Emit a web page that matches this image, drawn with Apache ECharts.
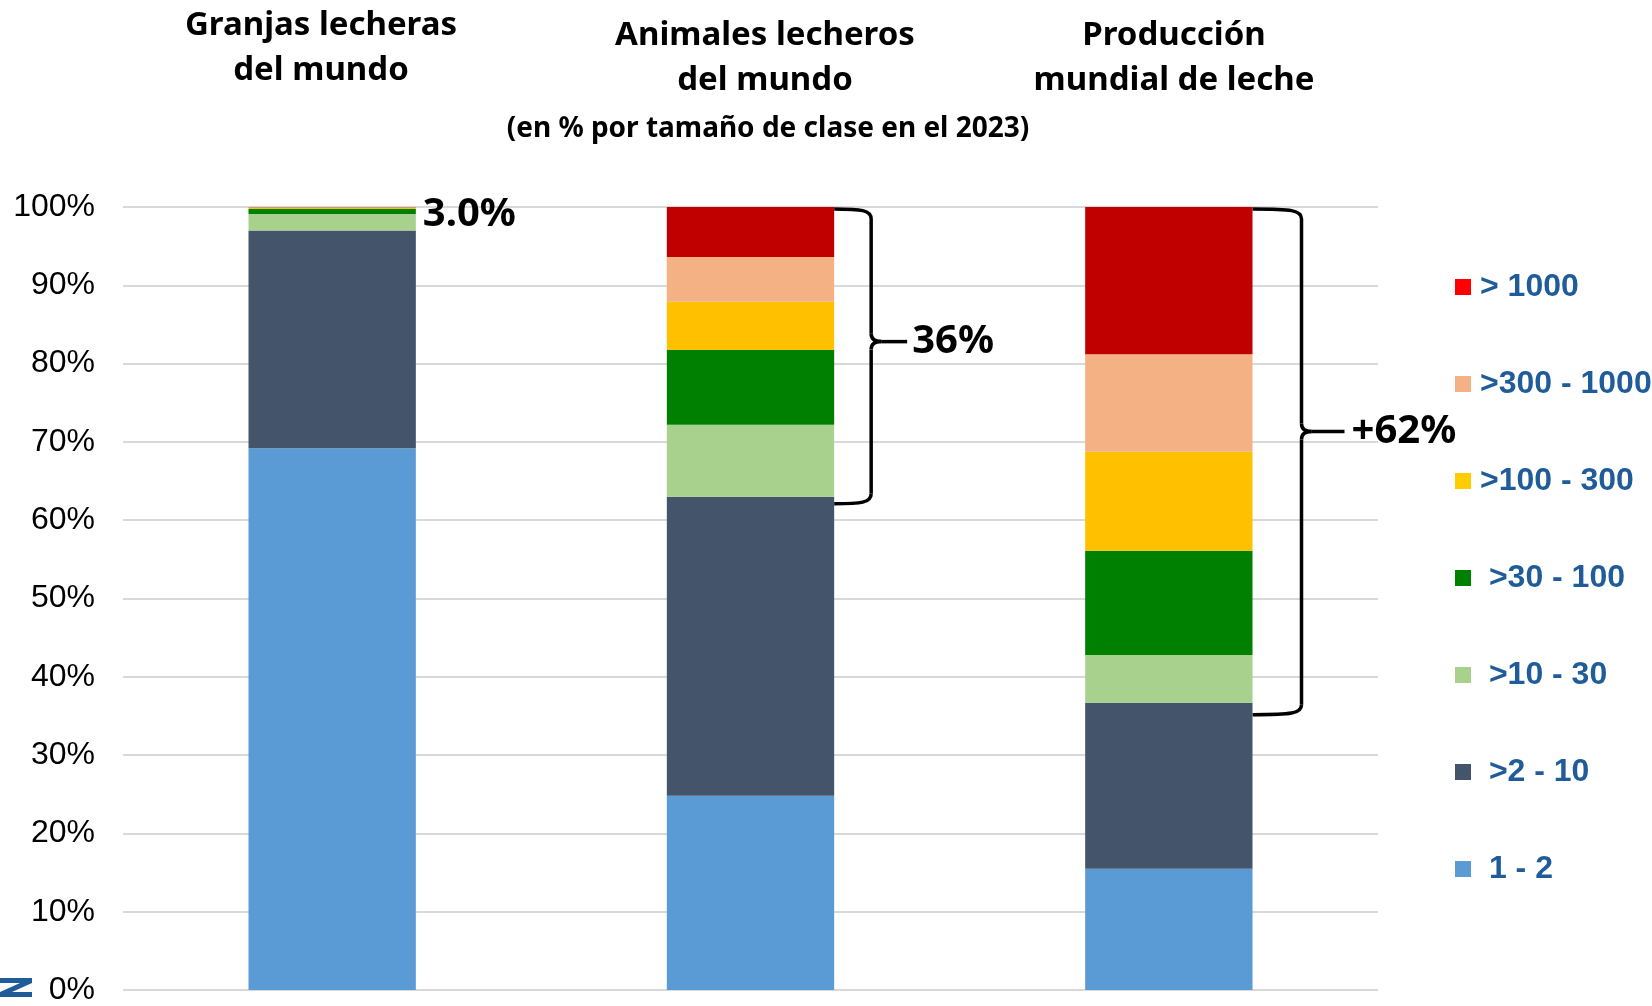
<!DOCTYPE html>
<html>
<head>
<meta charset="utf-8">
<script src="https://cdn.jsdelivr.net/npm/echarts@6/dist/echarts.min.js"></script>
<style>
  html, body { margin: 0; padding: 0; background: #fff; }
  #main { width: 1652px; height: 1006px; }
</style>
</head>
<body>
<div id="main"></div>
<script>
// categories (three stacked bars)
var categories = ['Granjas lecheras del mundo', 'Animales lecheros del mundo', 'Producción mundial de leche'];
// size classes, bottom to top
var classes = ['1 - 2', '>2 - 10', '>10 - 30', '>30 - 100', '>100 - 300', '>300 - 1000', '> 1000'];
// % share per size class, one value per category
var c1_2 = [69.2, 24.8, 15.5];
var c2_10 = [27.8, 38.2, 21.2];
var c10_30 = [2.1, 9.2, 6.1];
var c30_100 = [0.65, 9.55, 13.3];
var c100_300 = [0.15, 6.15, 12.65];
var c300_1000 = [0.07, 5.7, 12.45];
var c1000 = [0.03, 6.4, 18.8];
var seriesData = [c1_2, c2_10, c10_30, c30_100, c100_300, c300_1000, c1000];
var barColors = ['#5B9BD5', '#44546A', '#A9D18E', '#008000', '#FFC000', '#F4B183', '#C00000'];
var legendColors = ['#5B9BD5', '#44546A', '#A9D18E', '#008000', '#FFCC00', '#F4B183', '#FF0000'];
var yTicks = [0, 10, 20, 30, 40, 50, 60, 70, 80, 90, 100];
// share of the bigger classes (>10 animals) shown next to the bars
var bigShareLabels = ['3.0%', '36%', '+62%'];

var chartDom = document.getElementById('main');
var myChart = echarts.init(chartDom);

var series = classes.map(function (name, i) {
  return {
    name: name,
    type: 'bar',
    stack: 'total',
    barWidth: '40%',
    itemStyle: { color: barColors[i] },
    data: seriesData[i]
  };
});

var legendData = classes.slice().reverse().map(function (name) {
  var i = classes.indexOf(name);
  return { name: name, itemStyle: { color: legendColors[i] } };
});

var option = {
  animation: false,
  grid: { left: 123, right: 274, top: 207, bottom: 15 },
  xAxis: {
    type: 'category',
    data: categories,
    axisLine: { show: false },
    axisTick: { show: false },
    axisLabel: { show: false }
  },
  yAxis: {
    type: 'value',
    min: yTicks[0],
    max: yTicks[yTicks.length - 1],
    interval: 10,
    axisLabel: {
      formatter: '{value}%',
      fontSize: 32,
      color: '#000',
      fontFamily: 'Liberation Sans',
      margin: 28
    },
    splitLine: { lineStyle: { color: '#d9d9d9', width: 2 } }
  },
  legend: {
    orient: 'vertical',
    left: 1450,
    top: 266,
    itemWidth: 16,
    itemHeight: 16,
    itemGap: 65,
    icon: 'rect',
    data: legendData,
    formatter: function (name) {
      // the smaller classes are indented a little in the original
      return classes.indexOf(name) <= 3 ? ' ' + name : name;
    },
    textStyle: {
      fontSize: 32,
      lineHeight: 31,
      fontWeight: 'bold',
      color: '#1F5C99',
      fontFamily: 'Liberation Sans',
      padding: [0, 0, 0, 4]
    }
  },
  series: series
};

option && myChart.setOption(option);

// annotations built from the axis scales
var band = myChart.convertToPixel({ gridIndex: 0 }, [1, 0])[0] - myChart.convertToPixel({ gridIndex: 0 }, [0, 0])[0];
var halfBar = band * 0.4 / 2;
function px(ci, v) { return myChart.convertToPixel({ gridIndex: 0 }, [ci, v]); }
function lowerTop(ci) { return seriesData[0][ci] + seriesData[1][ci]; }

var braceStyle = { stroke: '#000', lineWidth: 3.5, fill: null };
function braceParts(x0, yT, yB, v, tip, r) {
  var yM = yT + (yB - yT) * r;
  return [
    { type: 'bezierCurve', shape: { x1: x0, y1: yT, x2: v, y2: yT + 10, cpx1: v - 10, cpy1: yT, cpx2: v, cpy2: yT + 1 }, style: braceStyle },
    { type: 'line', shape: { x1: v, y1: yT + 10, x2: v, y2: yM - 8 }, style: braceStyle },
    { type: 'bezierCurve', shape: { x1: v, y1: yM - 8, x2: v + 10, y2: yM, cpx1: v, cpy1: yM }, style: braceStyle },
    { type: 'line', shape: { x1: v + 10, y1: yM, x2: tip, y2: yM }, style: braceStyle },
    { type: 'bezierCurve', shape: { x1: v + 10, y1: yM, x2: v, y2: yM + 8, cpx1: v, cpy1: yM }, style: braceStyle },
    { type: 'line', shape: { x1: v, y1: yM + 8, x2: v, y2: yB - 10 }, style: braceStyle },
    { type: 'bezierCurve', shape: { x1: v, y1: yB - 10, x2: x0, y2: yB, cpx1: v, cpy1: yB - 1, cpx2: v - 10, cpy2: yB }, style: braceStyle }
  ];
}

var graphics = [];
var titleFont = 'bold 33px "Noto Sans"';
graphics.push({ type: 'text', x: 321, y: 48, style: { text: 'Granjas lecheras\ndel mundo', font: titleFont, lineHeight: 45, align: 'center', verticalAlign: 'middle', fill: '#000' } });
graphics.push({ type: 'text', x: 765, y: 58, style: { text: 'Animales lecheros\ndel mundo', font: titleFont, lineHeight: 45, align: 'center', verticalAlign: 'middle', fill: '#000' } });
graphics.push({ type: 'text', x: 1174, y: 58, style: { text: 'Producción\nmundial de leche', font: titleFont, lineHeight: 45, align: 'center', verticalAlign: 'middle', fill: '#000' } });
graphics.push({ type: 'text', x: 768, y: 129, style: { text: '(en % por tamaño de clase en el 2023)', font: 'bold 28px "Noto Sans"', align: 'center', verticalAlign: 'middle', fill: '#000' } });

// first bar: plain label at the top
var p0 = px(0, 100);
graphics.push({ type: 'text', x: p0[0] + halfBar + 7, y: p0[1] + 8, style: { text: bigShareLabels[0], font: 'bold 40px "Noto Sans"', verticalAlign: 'middle', fill: '#000' } });

// second and third bars: braces
var braceOffsets = [null,
  { v: 37, tip: 73, text: 78, below: 7, ratio: 0.45 },
  { v: 49, tip: 92, text: 99, below: 12, ratio: 0.44 }];
[1, 2].forEach(function (ci) {
  var top = px(ci, 100);
  var bot = px(ci, lowerTop(ci));
  var o = braceOffsets[ci];
  var xr = top[0] + halfBar;
  var yT = top[1] + 2;
  var yB = bot[1] + o.below;
  graphics = graphics.concat(braceParts(xr, yT, yB, xr + o.v, xr + o.tip, o.ratio));
  graphics.push({
    type: 'text', x: xr + o.text, y: yT + (yB - yT) * o.ratio,
    style: { text: bigShareLabels[ci], font: 'bold 40px "Noto Sans"', verticalAlign: 'middle', fill: '#000' }
  });
});

// small logo fragment, bottom left
graphics.push({
  type: 'polygon',
  shape: { points: [[0, 978], [32, 978], [32, 983], [12, 992], [32, 992], [32, 997], [0, 997], [0, 992], [20, 983], [0, 983]] },
  style: { fill: '#1F5C99' }
});

myChart.setOption({ graphic: graphics });
</script>
</body>
</html>
